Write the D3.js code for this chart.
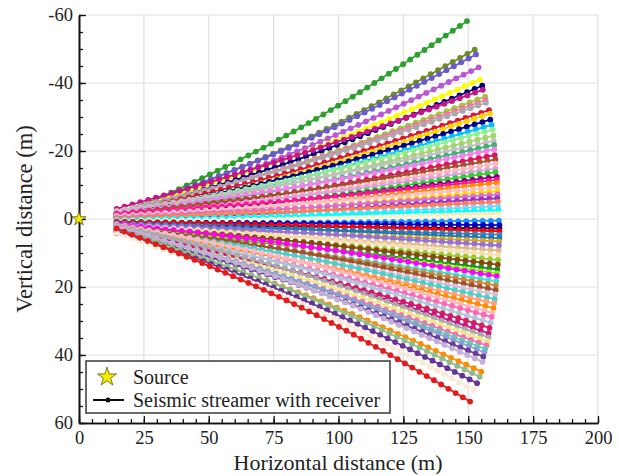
<!DOCTYPE html>
<html><head><meta charset="utf-8">
<script src="https://cdn.jsdelivr.net/npm/d3@7"></script>
<style>body{margin:0;background:#fff}svg text{font-family:"Liberation Serif","Times New Roman",serif;fill:#222}</style>
</head><body>
<svg id="c" width="619" height="476"></svg>
<script>
// ---- data ----
const xTicks = [0, 25, 50, 75, 100, 125, 150, 175, 200];
const yTicks = [-60, -40, -20, 0, 20, 40, 60];
const sourcePoint = [0, 0];
const receiversPerStreamer = 48;
const streamerStartX = 14.5;
const streamerMidX = 85;
const startY = [-0.4,-1.2,-1.6,-1.0,-1.8,-1.3,-3.0,-1.5,-2.0,-2.2,-1.6,-0.8,-1.3,-0.6,-1.9,-1.1,-2.4,-0.9,-1.7,-0.5,-1.4,-0.3,-1.0,0.2,-0.7,-1.5,0.0,-0.9,0.5,-0.4,0.8,-0.2,1.0,0.3,1.2,0.6,1.5,0.9,1.8,0.8,2.0,1.2,2.3,1.4,2.6,1.7,2.9,2.0,3.2,2.3,1.5,3.4,2.6,1.9,3.0,2.2,3.6,2.7,1.6,3.3,2.4,3.8,2.9,1.8,3.4,4.2,3.9,2.8,3.5,2.2,3.8,3.0,3.6,4.0,2.8];
const midY = [-26.7,-22.7,-22.3,-20.2,-19.0,-17.7,-19.0,-16.4,-16.2,-15.9,-14.5,-13.5,-13.1,-12.0,-12.1,-10.9,-11.0,-9.6,-9.6,-8.1,-8.1,-7.0,-6.7,-5.6,-5.5,-5.6,-4.4,-4.4,-3.1,-3.2,-2.1,-2.2,-1.0,-0.9,0.1,0.1,1.1,1.3,2.2,1.9,3.0,3.0,4.1,4.0,5.3,5.4,6.7,6.7,8.0,8.0,7.8,9.6,9.6,9.8,11.0,11.1,12.4,12.6,12.5,14.0,14.3,15.8,15.9,15.9,17.3,18.4,18.7,18.4,19.5,19.4,21.7,22.0,23.3,24.6,25.8];
const endX = [149.5,152.5,153,154,154.5,155.4,155.6,156.5,156.6,156.8,158,158.4,158.5,159,159.4,159.7,159.8,160,160,160.2,160.5,160.5,160.4,160.5,161,161,161,161.2,161.2,161.3,161.2,161.4,161.5,161.6,161.7,161.7,161.8,162,162,162,162,162,161.9,161.8,161.7,161.5,161.5,161.4,161.2,161,161,160.8,160.6,160.6,160.4,160.2,160,159.7,159.3,159,158.6,158.2,157.8,157.8,157.4,157,156.5,156.2,155.8,155.5,155,154.4,153.4,152.2,150.7];
const endY = [-58.2,-49.8,-48.4,-44.6,-41.0,-39.2,-38.0,-36.0,-35.0,-34.2,-32.0,-31.0,-29.2,-27.7,-26.3,-24.5,-23.0,-21.8,-20.5,-18.8,-17.5,-16.3,-14.8,-13.8,-12.4,-11.5,-10.6,-9.3,-8.2,-7.2,-6.1,-5.0,-3.8,-2.6,-1.5,-0.6,0.5,1.8,2.8,3.6,4.6,5.6,6.6,7.8,9.2,10.6,12.0,13.4,14.8,16.0,16.8,18.3,19.5,20.9,22.2,23.6,24.8,26.2,27.6,28.8,30.5,32.0,33.6,34.8,36.0,37.2,38.2,39.2,40.5,42.0,44.9,46.4,48.3,50.3,53.7];
const colors = ["#2ca02c","#6b8e23","#6a5acd","#ba55d3","#ffff00","#000080","#c71585","#9acd32","#ff69b4","#a9a9a9","#dc143c","#ffd700","#00008b","#00bfff","#90ee90","#a2d56b","#c0c0c0","#3cb371","#ee82ee","#e0115f","#a0522d","#ffb6c1","#dda0dd","#32cd32","#800080","#ff1493","#ff8c00","#ffc0cb","#ffd700","#da70d6","#9932cc","#ff7f50","#87cefa","#00ffff","#ffe4b5","#fafad2","#1e90ff","#0000cd","#000080","#ff0000","#4682b4","#1f77b4","#daa520","#9370db","#deb887","#f5deb3","#9acd32","#8b4513","#228b22","#7cfc00","#ff00ff","#40e0d0","#cd853f","#a0522d","#d8bfd8","#48d1cc","#ffa07a","#ff8c00","#ffb6c1","#ff69b4","#b0c4de","#d81b60","#c71585","#a9a9a9","#f0e68c","#ff69b4","#66cdaa","#8c9ed6","#6a3d9a","#c5b0d5","#ff8c00","#8fbc8f","#663399","#faebd7","#e41a1c"];
const legendLabels = ["Source", "Seismic streamer with receiver"];

// ---- chart ----
const svg = d3.select("#c");
const x = d3.scaleLinear().domain([0, 200]).range([79, 598]);
const y = d3.scaleLinear().domain([-60, 60]).range([15, 423]);

const grid = svg.append("g").attr("stroke", "#e0e0e0").attr("stroke-width", 1.2);
xTicks.slice(1).forEach(t => grid.append("line").attr("x1", x(t)).attr("x2", x(t)).attr("y1", y(-60)).attr("y2", y(60)));
yTicks.slice(0, -1).forEach(t => grid.append("line").attr("x1", x(0)).attr("x2", x(200)).attr("y1", y(t)).attr("y2", y(t)));

// streamers
const line = d3.line().x(d => x(d[0])).y(d => y(d[1])).curve(d3.curveNatural);
const gS = svg.append("g");
startY.forEach((s, i) => {
  const pts = [[streamerStartX, s], [streamerMidX, midY[i]], [endX[i], endY[i]]];
  const g = gS.append("g");
  const p = g.append("path").attr("d", line(pts)).attr("fill", "none")
    .attr("stroke", colors[i]).attr("stroke-width", 1.8);
  const node = p.node();
  const L = node.getTotalLength();
  const rec = d3.range(receiversPerStreamer).map(k => node.getPointAtLength(L * k / (receiversPerStreamer - 1)));
  g.selectAll("circle").data(rec).join("circle")
    .attr("cx", d => d.x).attr("cy", d => d.y).attr("r", 2.9).attr("fill", colors[i]);
});

// axes
const fmt = d => String(d);
const ax = svg.append("g").attr("transform", `translate(0,${y(60)})`)
  .call(d3.axisBottom(x).tickValues(xTicks).tickSizeInner(-7).tickSizeOuter(0).tickPadding(8).tickFormat(fmt));
const axm = svg.append("g").attr("transform", `translate(0,${y(60)})`)
  .call(d3.axisBottom(x).tickValues(d3.range(0, 201, 5)).tickSizeInner(-4).tickSizeOuter(0).tickFormat(""));
const ay = svg.append("g").attr("transform", `translate(${x(0)},0)`)
  .call(d3.axisLeft(y).tickValues(yTicks).tickSizeInner(-7).tickSizeOuter(0).tickPadding(6).tickFormat(fmt));
const aym = svg.append("g").attr("transform", `translate(${x(0)},0)`)
  .call(d3.axisLeft(y).tickValues(d3.range(-60, 61, 5)).tickSizeInner(-4).tickSizeOuter(0).tickFormat(""));
[ax, axm, ay, aym].forEach(a => {
  a.select(".domain").attr("stroke", "#111").attr("stroke-width", 1.6);
  a.selectAll(".tick line").attr("stroke", "#111").attr("stroke-width", 1.3);
  a.selectAll("text").attr("font-size", 18.5).attr("fill", "#222");
});

// source star
const star = d3.symbol().type(d3.symbolStar);
svg.append("path").attr("d", star.size(60)())
  .attr("transform", `translate(${x(sourcePoint[0])},${y(sourcePoint[1])})`)
  .attr("fill", "#f5ea00").attr("stroke", "#5a5a00").attr("stroke-width", 0.8);

// titles
svg.append("text").attr("x", 338).attr("y", 470).attr("text-anchor", "middle")
  .attr("font-size", 22).text("Horizontal distance (m)");
svg.append("text").attr("transform", `translate(32,${y(0)}) rotate(-90)`).attr("text-anchor", "middle")
  .attr("font-size", 22.5).text("Vertical distance (m)");

// legend
const lg = svg.append("g");
lg.append("rect").attr("x", 86).attr("y", 361).attr("width", 304).attr("height", 52)
  .attr("fill", "#fff").attr("stroke", "#444").attr("stroke-width", 1.6);
lg.append("path").attr("d", star.size(110)()).attr("transform", "translate(107,377)")
  .attr("fill", "#f5ea00").attr("stroke", "#5a5a00").attr("stroke-width", 0.8);
lg.append("line").attr("x1", 93).attr("x2", 124).attr("y1", 400).attr("y2", 400)
  .attr("stroke", "#111").attr("stroke-width", 2);
lg.append("circle").attr("cx", 108).attr("cy", 400).attr("r", 2.5).attr("fill", "#111");
lg.append("text").attr("x", 133).attr("y", 384).attr("font-size", 20).text(legendLabels[0]);
lg.append("text").attr("x", 133).attr("y", 407).attr("font-size", 20).text(legendLabels[1]);
</script>
</body></html>
